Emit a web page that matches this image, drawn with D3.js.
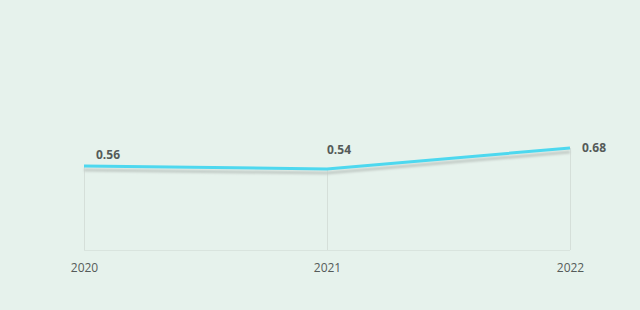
<!DOCTYPE html>
<html>
<head>
<meta charset="utf-8">
<script src="https://cdn.jsdelivr.net/npm/d3@7"></script>
<style>
  html, body { margin: 0; padding: 0; background: #e6f2ec; }
  svg { display: block; font-family: "Open Sans", "Noto Sans", sans-serif; }
</style>
</head>
<body>
<svg id="chart" width="640" height="310"></svg>
<script>
var years = ["2020", "2021", "2022"];
var values = [0.56, 0.54, 0.68];

var svg = d3.select("#chart");
var width = 640, height = 310;
var left = 84, right = 570, bottom = 250;

var data = years.map(function(y, i) { return { year: y, value: values[i] }; });

var x = d3.scalePoint().domain(years).range([left, right]);
var y = d3.scaleLinear().domain([0, 1]).range([bottom, bottom - 150]);

svg.append("rect")
    .attr("width", width)
    .attr("height", height)
    .attr("fill", "#e6f2ec");

var defs = svg.append("defs");
defs.append("filter")
    .attr("id", "blur")
    .attr("x", "-10%").attr("y", "-100%")
    .attr("width", "120%").attr("height", "300%")
  .append("feGaussianBlur")
    .attr("stdDeviation", 1.2);

// baseline
svg.append("line")
    .attr("x1", left).attr("x2", right)
    .attr("y1", bottom + 0.5).attr("y2", bottom + 0.5)
    .attr("stroke", "#d9e4de")
    .attr("stroke-width", 1);

// vertical drop lines
svg.selectAll(".drop")
    .data(data)
  .enter().append("line")
    .attr("class", "drop")
    .attr("x1", function(d) { return x(d.year) + 0.5; })
    .attr("x2", function(d) { return x(d.year) + 0.5; })
    .attr("y1", function(d) { return y(d.value); })
    .attr("y2", bottom)
    .attr("stroke", "#d5dfd9")
    .attr("stroke-width", 1);

var line = d3.line()
    .x(function(d) { return x(d.year); })
    .y(function(d) { return y(d.value); });

// shadow
svg.append("path")
    .datum(data)
    .attr("d", line)
    .attr("transform", "translate(0,4)")
    .attr("fill", "none")
    .attr("stroke", "#c3ccc7")
    .attr("stroke-width", 3)
    .attr("filter", "url(#blur)");

svg.append("path")
    .datum(data)
    .attr("d", line)
    .attr("fill", "none")
    .attr("stroke", "#4dd8ef")
    .attr("stroke-width", 3);

// value labels
svg.selectAll(".val")
    .data(data)
  .enter().append("text")
    .attr("class", "val")
    .attr("x", function(d, i) { return x(d.year) + (i === 1 ? 0 : 12); })
    .attr("y", function(d, i) {
      var off = i === 0 ? -11 : (i === 1 ? -19 : 0);
      return y(d.value) + off;
    })
    .attr("dy", "0.35em")
    .attr("font-size", 12)
    .attr("font-weight", "bold")
    .attr("fill", "#555b59")
    .text(function(d) { return d.value.toFixed(2); });

// x axis labels
var xAxis = svg.append("g")
    .attr("transform", "translate(0," + bottom + ")")
    .call(d3.axisBottom(x).tickSize(0).tickPadding(13));
xAxis.select(".domain").remove();
xAxis.selectAll("text")
    .attr("font-size", 12)
    .attr("font-family", "\"Open Sans\", \"Noto Sans\", sans-serif")
    .attr("fill", "#555b59");
</script>
</body>
</html>
